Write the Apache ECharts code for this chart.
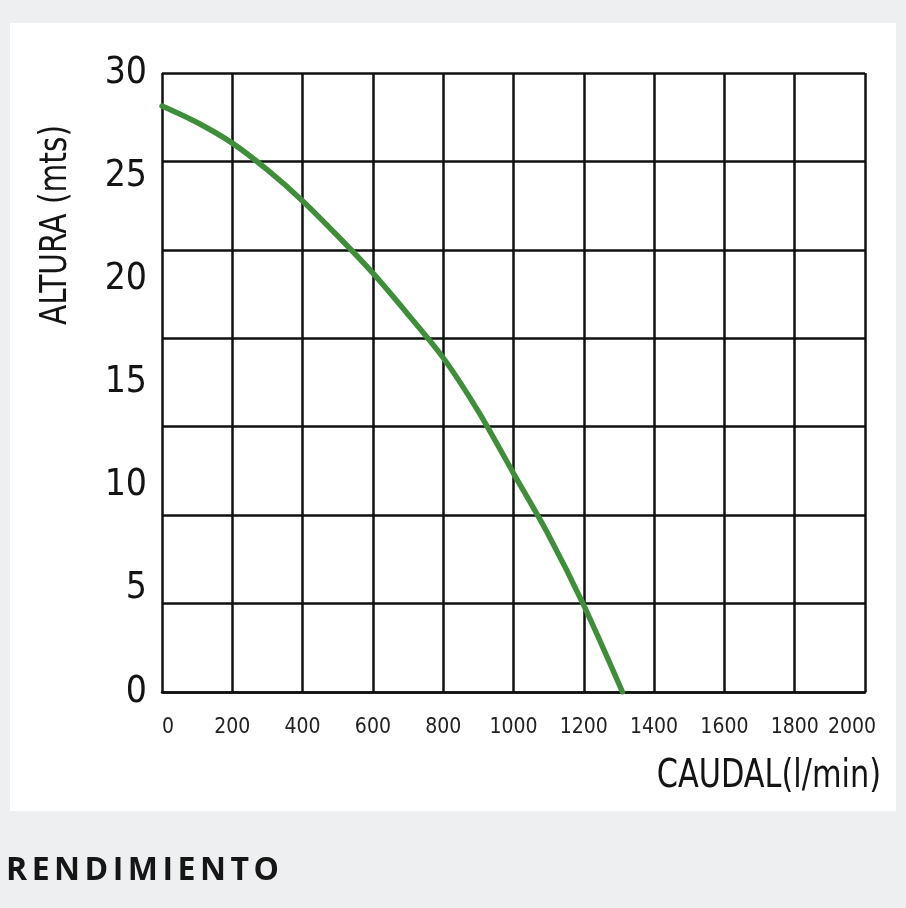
<!DOCTYPE html>
<html>
<head>
<meta charset="utf-8">
<script src="https://cdn.jsdelivr.net/npm/echarts@6/dist/echarts.min.js"></script>
<style>
html,body{margin:0;padding:0;background:#edeff1;}
#c{width:906px;height:908px;position:absolute;left:0;top:0;}
#t{position:absolute;left:6px;top:852px;font:700 32px 'Open Sans','DejaVu Sans',sans-serif;line-height:1;letter-spacing:4.5px;color:#161616;white-space:nowrap;}
</style>
</head>
<body>
<div id="c"></div>
<div id="t"></div>
<script>
// ---- data ----
const flow = [0, 100, 200, 300, 400, 500, 600, 700, 800, 900, 1000, 1100, 1200, 1310];
const head = [28.4, 27.6, 26.6, 25.3, 23.8, 22.1, 20.3, 18.3, 16.2, 13.6, 10.6, 7.6, 4.2, 0];
const xTicks = [0, 200, 400, 600, 800, 1000, 1200, 1400, 1600, 1800, 2000];
const yTicks = [0, 5, 10, 15, 20, 25, 30];
const xAxisTitle = 'CAUDAL(l/min)';
const yAxisTitle = 'ALTURA (mts)';
const footerTitle = 'RENDIMIENTO';

document.getElementById('t').textContent = footerTitle;

const narrow = '"Liberation Sans Narrow", "Arial Narrow", "DejaVu Sans Condensed", sans-serif';
const ink = '#141414';
const gridLine = { color: '#111111', width: 2.5 };

const chart = echarts.init(document.getElementById('c'), null, { renderer: 'canvas' });
chart.setOption({
  backgroundColor: '#edeff1',
  animation: false,
  graphic: [
    { type: 'rect', z: -10, shape: { x: 10, y: 23, width: 886, height: 788 }, style: { fill: '#ffffff' } },
    { type: 'text', x: 56, y: 225, rotation: Math.PI / 2, scaleX: 0.89,
      style: { text: yAxisTitle, fill: ink, font: '37px ' + narrow, textAlign: 'center', textVerticalAlign: 'middle' } },
    { type: 'text', x: 881, y: 777, scaleX: 0.865,
      style: { text: xAxisTitle, fill: ink, font: '39px ' + narrow, textAlign: 'right', textVerticalAlign: 'middle' } }
  ],
  grid: { left: 162, right: 41, top: 73, bottom: 216, containLabel: false },
  xAxis: {
    type: 'value',
    min: xTicks[0], max: xTicks[xTicks.length - 1], interval: xTicks[1] - xTicks[0],
    axisLine: { show: true, onZero: false, lineStyle: gridLine },
    axisTick: { show: false },
    splitLine: { show: true, lineStyle: gridLine },
    axisLabel: {
      color: '#222', fontFamily: narrow, fontSize: 21, margin: 25,
      formatter: function (v) {
        if (v === xTicks[0]) return '{l|' + v + '}';
        if (v === xTicks[xTicks.length - 1]) return '{r|' + v + '}';
        return String(v);
      },
      rich: {
        l: { fontFamily: narrow, fontSize: 21, color: '#222', padding: [0, 0, 0, 12] },
        r: { fontFamily: narrow, fontSize: 21, color: '#222', padding: [0, 26, 0, 0] }
      }
    }
  },
  yAxis: [
    {
      type: 'value',
      min: yTicks[0], max: yTicks[yTicks.length - 1], interval: yTicks[1] - yTicks[0],
      axisLine: { show: false }, axisTick: { show: false }, splitLine: { show: false },
      axisLabel: { color: ink, fontFamily: narrow, fontSize: 37, margin: 15 }
    },
    {
      type: 'value', position: 'left',
      min: 0, max: 7, interval: 1,
      axisLine: { show: false }, axisTick: { show: false }, axisLabel: { show: false },
      splitLine: { show: true, lineStyle: gridLine }
    }
  ],
  series: [{
    type: 'line',
    yAxisIndex: 0,
    data: flow.map(function (x, i) { return [x, head[i]]; }),
    smooth: 0.3,
    symbol: 'none',
    z: 5,
    lineStyle: { color: '#3f8f3a', width: 5.5, cap: 'round' }
  }]
});
</script>
</body>
</html>
